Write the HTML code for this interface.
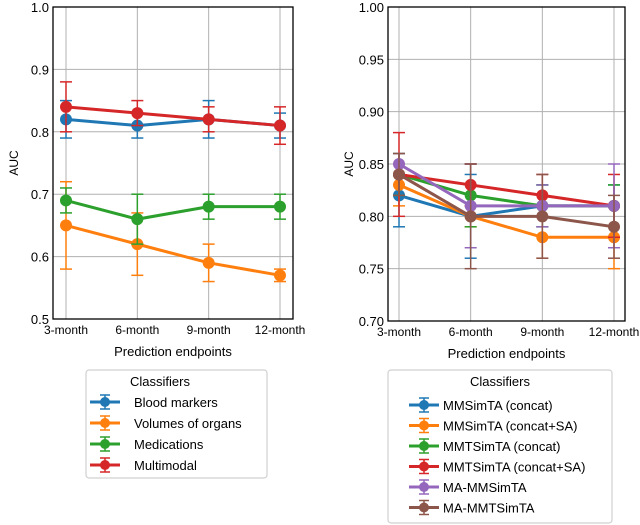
<!DOCTYPE html>
<html><head><meta charset="utf-8">
<style>
body{margin:0;background:#fff;}
svg{display:block;font-family:"Liberation Sans",sans-serif;}
</style></head>
<body>
<svg id="chart" width="640" height="525" viewBox="0 0 640 525"></svg>
<script>
const categories = ["3-month","6-month","9-month","12-month"];
// Left panel
const leftNames = ["Blood markers","Volumes of organs","Medications","Multimodal"];
const leftColors = ["#1f77b4","#ff7f0e","#2ca02c","#d62728"];
const leftValues = [[0.82,0.81,0.82,0.81],[0.65,0.62,0.59,0.57],[0.69,0.66,0.68,0.68],[0.84,0.83,0.82,0.81]];
const leftLow = [[0.79,0.79,0.79,0.79],[0.58,0.57,0.56,0.56],[0.67,0.62,0.66,0.66],[0.80,0.81,0.80,0.78]];
const leftHigh = [[0.85,0.83,0.85,0.83],[0.72,0.67,0.62,0.58],[0.71,0.70,0.70,0.70],[0.88,0.85,0.84,0.84]];
const leftTicks = [0.5,0.6,0.7,0.8,0.9,1.0];
const leftTickLabels = ["0.5","0.6","0.7","0.8","0.9","1.0"];
// Right panel
const rightNames = ["MMSimTA (concat)","MMSimTA (concat+SA)","MMTSimTA (concat)","MMTSimTA (concat+SA)","MA-MMSimTA","MA-MMTSimTA"];
const rightColors = ["#1f77b4","#ff7f0e","#2ca02c","#d62728","#9467bd","#8c564b"];
const rightValues = [[0.82,0.80,0.81,0.81],[0.83,0.80,0.78,0.78],[0.84,0.82,0.81,0.81],[0.84,0.83,0.82,0.81],[0.85,0.81,0.81,0.81],[0.84,0.80,0.80,0.79]];
const rightLow = [[0.79,0.76,0.79,0.79],[0.81,0.79,0.76,0.75],[0.82,0.79,0.79,0.79],[0.80,0.81,0.80,0.78],[0.84,0.77,0.79,0.77],[0.82,0.75,0.76,0.76]];
const rightHigh = [[0.85,0.84,0.83,0.83],[0.85,0.81,0.80,0.81],[0.86,0.85,0.83,0.83],[0.88,0.85,0.84,0.84],[0.86,0.85,0.83,0.85],[0.86,0.85,0.84,0.82]];
const rightTicks = [0.70,0.75,0.80,0.85,0.90,0.95,1.00];
const rightTickLabels = ["0.70","0.75","0.80","0.85","0.90","0.95","1.00"];

const NS="http://www.w3.org/2000/svg";
const svg=document.getElementById('chart');
function mk(tag,attrs,parent){const e=document.createElementNS(NS,tag);for(const k in attrs)e.setAttribute(k,attrs[k]);(parent||svg).appendChild(e);return e;}

function panel(p){
  const g=mk('g',{});
  
  
  const yS=v=>p.y1-(v-p.ymin)/(p.ymax-p.ymin)*(p.y1-p.y0);
  const xS=i=>p.cx0+i*(p.cx1-p.cx0)/(categories.length-1);
  p.ticks.forEach((t,i)=>{
    const l=mk('line',{x1:p.x0,x2:p.x1,y1:yS(t),y2:yS(t),stroke:'#b0b0b0','stroke-width':1},g);
    
    
    const tx=mk('text',{x:p.x0-4,y:yS(t)+5,'text-anchor':'end','font-size':13,fill:'#000'},g);
    tx.textContent=p.labels[i];
    
    
  });
  categories.forEach((c,i)=>{
    const l=mk('line',{x1:xS(i),x2:xS(i),y1:p.y0,y2:p.y1,stroke:'#b0b0b0','stroke-width':1},g);
    
    
    const tx=mk('text',{x:xS(i),y:p.y1+15,'text-anchor':'middle','font-size':12,fill:'#000'},g);
    tx.textContent=c;
    
    
  });
  p.vals.forEach((s,k)=>{
    const col=p.colors[k];
    const sg=mk('g',{},g);
    
    
    mk('polyline',{points:s.map((v,i)=>xS(i)+','+yS(v)).join(' '),fill:'none',stroke:col,'stroke-width':3},sg);
    s.forEach((v,i)=>{
      const x=xS(i);
      mk('line',{x1:x,x2:x,y1:yS(p.lo[k][i]),y2:yS(p.hi[k][i]),stroke:col,'stroke-width':1.5},sg);
      mk('line',{x1:x-6,x2:x+6,y1:yS(p.lo[k][i]),y2:yS(p.lo[k][i]),stroke:col,'stroke-width':1.5},sg);
      mk('line',{x1:x-6,x2:x+6,y1:yS(p.hi[k][i]),y2:yS(p.hi[k][i]),stroke:col,'stroke-width':1.5},sg);
      const c=mk('circle',{cx:x,cy:yS(v),r:6,fill:col},sg);
      
      
    });
  });
  const fr=mk('rect',{x:p.x0,y:p.y0,width:p.x1-p.x0,height:p.y1-p.y0,fill:'none',stroke:'#000','stroke-width':1.3},g);
  
  
  const yt=mk('text',{x:0,y:0,transform:`translate(${p.x0-35},${(p.y0+p.y1)/2}) rotate(-90)`,'text-anchor':'middle','font-size':12},g);
  yt.textContent='AUC';
  
  
  const xt=mk('text',{x:(p.x0+p.x1)/2,y:p.y1+37,'text-anchor':'middle','font-size':13},g);
  xt.textContent='Prediction endpoints';
  
  
  const L=p.leg;
  const lg=mk('g',{},g);
  
  
  mk('rect',{x:L.x,y:L.y,width:L.w,height:L.h,rx:3,fill:'#fff',stroke:'#d0d0d0','stroke-width':1.2},lg);
  const lt=mk('text',{x:L.tx,y:L.y+16,'text-anchor':L.ta,'font-size':13},lg);
  lt.textContent='Classifiers';
  
  
  p.names.forEach((n,k)=>{
    const y=L.y+L.r0+k*L.dy;
    const eg=mk('g',{},lg);
    
    
    const col=p.colors[k], hx=L.hx;
    mk('line',{x1:hx-15,x2:hx+15,y1:y,y2:y,stroke:col,'stroke-width':3},eg);
    mk('line',{x1:hx,x2:hx,y1:y-7,y2:y+7,stroke:col,'stroke-width':1.5},eg);
    mk('line',{x1:hx-5,x2:hx+5,y1:y-7,y2:y-7,stroke:col,'stroke-width':1.5},eg);
    mk('line',{x1:hx-5,x2:hx+5,y1:y+7,y2:y+7,stroke:col,'stroke-width':1.5},eg);
    mk('circle',{cx:hx,cy:y,r:5,fill:col},eg);
    const t=mk('text',{x:L.lx,y:y+5,'font-size':13},eg);
    t.textContent=n;
  });
}
panel({name:'left-panel',x0:53,x1:293,y0:7,y1:319,ymin:0.5,ymax:1.0,cx0:66,cx1:280,ticks:leftTicks,labels:leftTickLabels,
  vals:leftValues,lo:leftLow,hi:leftHigh,colors:leftColors,names:leftNames,
  leg:{x:86,y:370,w:181,h:108,tx:160,ta:'middle',r0:32,dy:21,hx:105,lx:134}});
panel({name:'right-panel',x0:388,x1:625,y0:7,y1:321,ymin:0.70,ymax:1.00,cx0:399,cx1:614,ticks:rightTicks,labels:rightTickLabels,
  vals:rightValues,lo:rightLow,hi:rightHigh,colors:rightColors,names:rightNames,
  leg:{x:388,y:370,w:224,h:153,tx:500,ta:'middle',r0:35,dy:20.5,hx:424,lx:443}});
</script>
</body></html>
